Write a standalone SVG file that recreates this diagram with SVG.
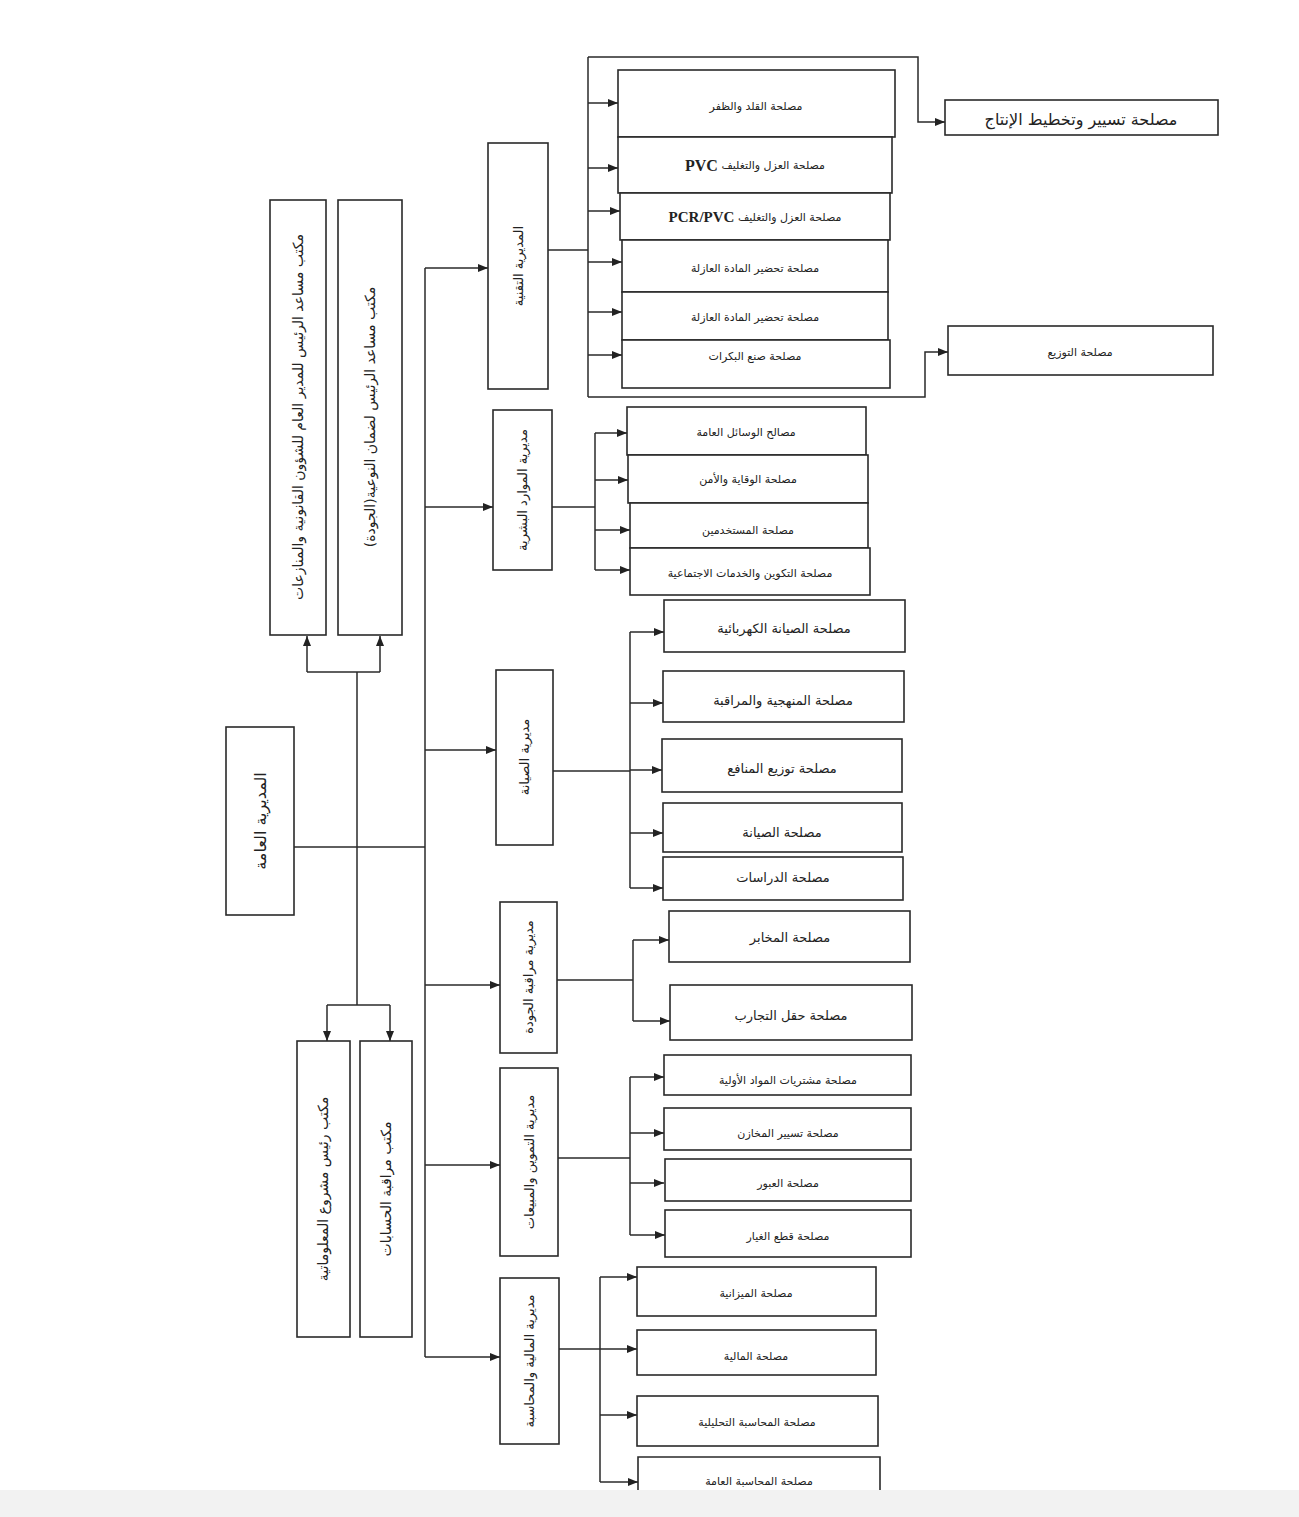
<svg xmlns="http://www.w3.org/2000/svg" width="1299" height="1517" viewBox="0 0 1299 1517">
<style>
.box{fill:#fff;stroke:#2a2a2a;stroke-width:1.6}
.ln{fill:none;stroke:#2a2a2a;stroke-width:1.5}
text{font-family:"DejaVu Sans","Noto Sans",sans-serif;fill:#222;direction:rtl;unicode-bidi:embed;text-anchor:middle;dominant-baseline:central}
.s{font-size:11px}
.m{font-size:13px}
.l{font-size:14px}
.xl{font-size:16px}
</style>
<defs>
<marker id="ar" markerWidth="10" markerHeight="8" refX="10" refY="4" orient="auto" markerUnits="userSpaceOnUse">
<path d="M0,0 L10,4 L0,8 z" fill="#222"/>
</marker>
</defs>
<rect x="0" y="0" width="1299" height="1517" fill="#fff"/>
<rect x="0" y="1490" width="1299" height="27" fill="#f2f2f2"/>

<g id="connectors">
<!-- general directorate to trunk -->
<path class="ln" d="M294,847 H425"/>
<path class="ln" d="M425,268 V1357"/>
<path class="ln" d="M425,268 H488" marker-end="url(#ar)"/>
<path class="ln" d="M425,507 H493" marker-end="url(#ar)"/>
<path class="ln" d="M425,750 H496" marker-end="url(#ar)"/>
<path class="ln" d="M425,985 H500" marker-end="url(#ar)"/>
<path class="ln" d="M425,1165 H500" marker-end="url(#ar)"/>
<path class="ln" d="M425,1357 H500" marker-end="url(#ar)"/>
<!-- offices -->
<path class="ln" d="M357,672 V1005"/>
<path class="ln" d="M307,672 H380"/>
<path class="ln" d="M307,672 V636" marker-end="url(#ar)"/>
<path class="ln" d="M380,672 V636" marker-end="url(#ar)"/>
<path class="ln" d="M327,1005 H390"/>
<path class="ln" d="M327,1005 V1041" marker-end="url(#ar)"/>
<path class="ln" d="M390,1005 V1041" marker-end="url(#ar)"/>
<!-- technical -->
<path class="ln" d="M548,250 H588"/>
<path class="ln" d="M588,57 V397"/>
<path class="ln" d="M588,57 H918 V122 H945" marker-end="url(#ar)"/>
<path class="ln" d="M588,397 H925 V352 H948" marker-end="url(#ar)"/>
<path class="ln" d="M588,103 H618" marker-end="url(#ar)"/>
<path class="ln" d="M588,168 H618" marker-end="url(#ar)"/>
<path class="ln" d="M588,211 H620" marker-end="url(#ar)"/>
<path class="ln" d="M588,262 H622" marker-end="url(#ar)"/>
<path class="ln" d="M588,312 H622" marker-end="url(#ar)"/>
<path class="ln" d="M588,355 H622" marker-end="url(#ar)"/>
<!-- HR -->
<path class="ln" d="M552,507 H595"/>
<path class="ln" d="M595,433 V570"/>
<path class="ln" d="M595,433 H627" marker-end="url(#ar)"/>
<path class="ln" d="M595,480 H628" marker-end="url(#ar)"/>
<path class="ln" d="M595,530 H630" marker-end="url(#ar)"/>
<path class="ln" d="M595,570 H630" marker-end="url(#ar)"/>
<!-- maintenance -->
<path class="ln" d="M553,771 H630"/>
<path class="ln" d="M630,632 V888"/>
<path class="ln" d="M630,632 H664" marker-end="url(#ar)"/>
<path class="ln" d="M630,703 H663" marker-end="url(#ar)"/>
<path class="ln" d="M630,770 H662" marker-end="url(#ar)"/>
<path class="ln" d="M630,833 H663" marker-end="url(#ar)"/>
<path class="ln" d="M630,888 H663" marker-end="url(#ar)"/>
<!-- quality -->
<path class="ln" d="M557,980 H633"/>
<path class="ln" d="M633,940 V1021"/>
<path class="ln" d="M633,940 H669" marker-end="url(#ar)"/>
<path class="ln" d="M633,1021 H670" marker-end="url(#ar)"/>
<!-- supply -->
<path class="ln" d="M558,1158 H630"/>
<path class="ln" d="M630,1077 V1235"/>
<path class="ln" d="M630,1077 H664" marker-end="url(#ar)"/>
<path class="ln" d="M630,1133 H664" marker-end="url(#ar)"/>
<path class="ln" d="M630,1183 H664" marker-end="url(#ar)"/>
<path class="ln" d="M630,1235 H665" marker-end="url(#ar)"/>
<!-- finance -->
<path class="ln" d="M559,1349 H600"/>
<path class="ln" d="M600,1277 V1482"/>
<path class="ln" d="M600,1277 H637" marker-end="url(#ar)"/>
<path class="ln" d="M600,1349 H637" marker-end="url(#ar)"/>
<path class="ln" d="M600,1415 H637" marker-end="url(#ar)"/>
<path class="ln" d="M600,1482 H638" marker-end="url(#ar)"/>
</g>

<g id="general-directorate"><rect class="box" x="226" y="727" width="68" height="188"/><text class="xl" transform="translate(260,821) rotate(-90)">المديرية العامة</text></g>
<g id="office-legal"><rect class="box" x="270" y="200" width="56" height="435"/><text class="l" transform="translate(298,417) rotate(-90)">مكتب مساعد الرئيس للمدير العام للشؤون القانونية والمنازعات</text></g>
<g id="office-quality"><rect class="box" x="338" y="200" width="64" height="435"/><text class="l" transform="translate(370,417) rotate(-90)">مكتب مساعد الرئيس لضمان النوعية(الجودة)</text></g>
<g id="office-it"><rect class="box" x="297" y="1041" width="53" height="296"/><text class="l" transform="translate(323,1189) rotate(-90)">مكتب رئيس مشروع المعلوماتية</text></g>
<g id="office-audit"><rect class="box" x="360" y="1041" width="52" height="296"/><text class="l" transform="translate(386,1189) rotate(-90)">مكتب مراقبة الحسابات</text></g>

<g id="dir-technical"><rect class="box" x="488" y="143" width="60" height="246"/><text class="m" transform="translate(518,266) rotate(-90)">المديرية التقنية</text></g>
<g id="dir-hr"><rect class="box" x="493" y="410" width="59" height="160"/><text class="m" transform="translate(522,490) rotate(-90)">مديرية الموارد البشرية</text></g>
<g id="dir-maintenance"><rect class="box" x="496" y="670" width="57" height="175"/><text class="m" transform="translate(524,757) rotate(-90)">مديرية الصيانة</text></g>
<g id="dir-quality"><rect class="box" x="500" y="902" width="57" height="151"/><text class="m" transform="translate(528,977) rotate(-90)">مديرية مراقبة الجودة</text></g>
<g id="dir-supply"><rect class="box" x="500" y="1068" width="58" height="188"/><text class="m" transform="translate(529,1162) rotate(-90)">مديرية التموين والمبيعات</text></g>
<g id="dir-finance"><rect class="box" x="500" y="1278" width="59" height="166"/><text class="m" transform="translate(529,1361) rotate(-90)">مديرية المالية والمحاسبة</text></g>

<g id="t1"><rect class="box" x="618" y="70" width="277" height="67"/><text class="s" x="756" y="106">مصلحة القلد والظفر</text></g>
<g id="t2"><rect class="box" x="618" y="137" width="274" height="56"/><text class="s" x="755" y="165">مصلحة العزل والتغليف <tspan style="font-family:'Liberation Serif',serif;font-size:16px;font-weight:bold">PVC</tspan></text></g>
<g id="t3"><rect class="box" x="620" y="193" width="270" height="47"/><text class="s" x="755" y="217">مصلحة العزل والتغليف <tspan style="font-family:'Liberation Serif',serif;font-size:15px;font-weight:bold">PCR/PVC</tspan></text></g>
<g id="t4"><rect class="box" x="622" y="240" width="266" height="52"/><text class="s" x="755" y="268">مصلحة تحضير المادة العازلة</text></g>
<g id="t5"><rect class="box" x="622" y="292" width="266" height="48"/><text class="s" x="755" y="317">مصلحة تحضير المادة العازلة</text></g>
<g id="t6"><rect class="box" x="622" y="340" width="268" height="48"/><text class="s" x="755" y="356">مصلحة صنع البكرات</text></g>
<g id="t-planning"><rect class="box" x="945" y="100" width="273" height="35"/><text class="xl" x="1081" y="119">مصلحة تسيير وتخطيط الإنتاج</text></g>
<g id="t-distribution"><rect class="box" x="948" y="326" width="265" height="49"/><text class="s" x="1080" y="352">مصلحة التوزيع</text></g>

<g id="h1"><rect class="box" x="627" y="407" width="239" height="48"/><text class="s" x="746" y="432">مصالح الوسائل العامة</text></g>
<g id="h2"><rect class="box" x="628" y="455" width="240" height="48"/><text class="s" x="748" y="479">مصلحة الوقاية والأمن</text></g>
<g id="h3"><rect class="box" x="630" y="503" width="238" height="45"/><text class="s" x="748" y="530">مصلحة المستخدمين</text></g>
<g id="h4"><rect class="box" x="630" y="548" width="240" height="47"/><text class="s" x="750" y="573">مصلحة التكوين والخدمات الاجتماعية</text></g>

<g id="m1"><rect class="box" x="664" y="600" width="241" height="52"/><text class="m" x="784" y="628">مصلحة الصيانة الكهربائية</text></g>
<g id="m2"><rect class="box" x="663" y="671" width="241" height="51"/><text class="m" x="783" y="700">مصلحة المنهجية والمراقبة</text></g>
<g id="m3"><rect class="box" x="662" y="739" width="240" height="53"/><text class="m" x="782" y="768">مصلحة توزيع المنافع</text></g>
<g id="m4"><rect class="box" x="663" y="803" width="239" height="49"/><text class="m" x="782" y="832">مصلحة الصيانة</text></g>
<g id="m5"><rect class="box" x="663" y="857" width="240" height="43"/><text class="m" x="783" y="877">مصلحة الدراسات</text></g>

<g id="q1"><rect class="box" x="669" y="911" width="241" height="51"/><text class="m" x="790" y="937">مصلحة المخابر</text></g>
<g id="q2"><rect class="box" x="670" y="985" width="242" height="55"/><text class="m" x="791" y="1015">مصلحة حقل التجارب</text></g>

<g id="s1"><rect class="box" x="664" y="1055" width="247" height="40"/><text class="s" x="788" y="1080">مصلحة مشتريات  المواد الأولية</text></g>
<g id="s2"><rect class="box" x="664" y="1108" width="247" height="42"/><text class="s" x="788" y="1133">مصلحة تسيير المخازن</text></g>
<g id="s3"><rect class="box" x="665" y="1159" width="246" height="42"/><text class="s" x="788" y="1183">مصلحة العبور</text></g>
<g id="s4"><rect class="box" x="665" y="1210" width="246" height="47"/><text class="s" x="788" y="1236">مصلحة قطع الغيار</text></g>

<g id="f1"><rect class="box" x="637" y="1267" width="239" height="49"/><text class="s" x="756" y="1293">مصلحة الميزانية</text></g>
<g id="f2"><rect class="box" x="637" y="1330" width="239" height="45"/><text class="s" x="756" y="1356">مصلحة المالية</text></g>
<g id="f3"><rect class="box" x="637" y="1396" width="241" height="50"/><text class="s" x="757" y="1422">مصلحة المحاسبة التحليلية</text></g>
<g id="f4"><path class="box" d="M638,1490 V1457 H880 V1490"/><text class="s" x="759" y="1481">مصلحة المحاسبة العامة</text></g>
</svg>
